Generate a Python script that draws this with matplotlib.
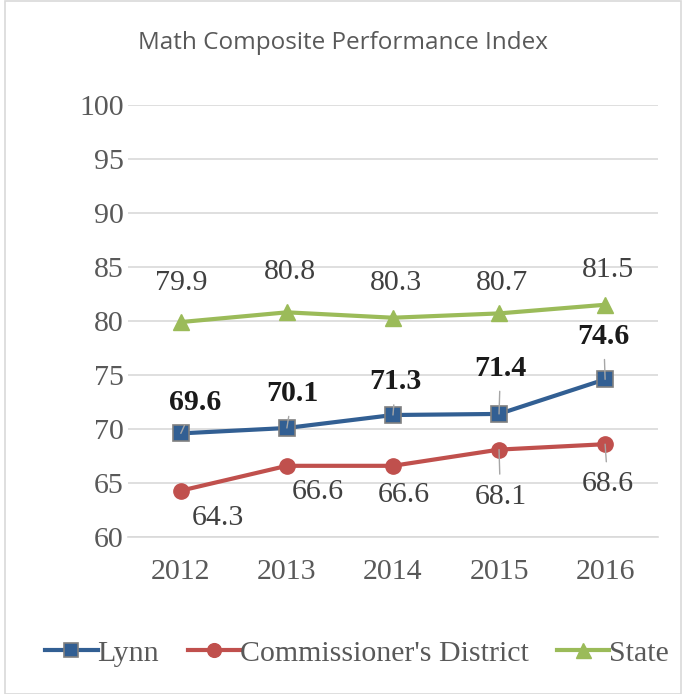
import matplotlib.pyplot as plt
from matplotlib.patches import Rectangle

years = ["2012", "2013", "2014", "2015", "2016"]
lynn = [69.6, 70.1, 71.3, 71.4, 74.6]
district = [64.3, 66.6, 66.6, 68.1, 68.6]
state = [79.9, 80.8, 80.3, 80.7, 81.5]

# label offsets in points (dx, dy) and whether a leader line is drawn
lynn_off = [(10, 22), (4, 25), (2, 24), (1, 33), (-1, 31)]
dist_off = [(27, -20), (22, -19), (8, -21), (1, -34), (2, -29)]
dist_lead = [False, False, False, True, True]
state_off = [(0, 28), (2, 29), (2, 25), (2, 22), (2, 25)]

serif = "Liberation Serif"
txt = "#404040"
fs = 21.5

fig = plt.figure(figsize=(6.87, 6.94), dpi=100)
fig.patches.append(Rectangle((0.008, 0.0), 0.983, 0.999, transform=fig.transFigure,
                             fill=False, edgecolor="#d9d9d9", linewidth=1.2))
ax = fig.add_axes([0.186, 0.226, 0.772, 0.623])

x = range(len(years))
ax.plot(x, lynn, color="#325f93", lw=3, marker="s", ms=11,
        markerfacecolor="#325f93", markeredgecolor="#808080", markeredgewidth=1.2,
        label="Lynn", zorder=3)
ax.plot(x, district, color="#c0504d", lw=3, marker="o", ms=11,
        label="Commissioner's District", zorder=3)
ax.plot(x, state, color="#9bbb59", lw=3, marker="^", ms=12,
        label="State", zorder=3)

lead = dict(arrowstyle="-", color="#a6a6a6", lw=1, shrinkA=5, shrinkB=0)
for i, v in enumerate(lynn):
    ax.annotate(f"{v:.1f}", (i, v), xytext=lynn_off[i], textcoords="offset points",
                ha="center", va="center", fontsize=fs, fontweight="bold",
                family=serif, color="#1a1a1a", arrowprops=lead, zorder=4)
for i, v in enumerate(district):
    ax.annotate(f"{v:.1f}", (i, v), xytext=dist_off[i], textcoords="offset points",
                ha="center", va="center", fontsize=fs, family=serif, color=txt,
                arrowprops=lead if dist_lead[i] else None, zorder=4)
for i, v in enumerate(state):
    ax.annotate(f"{v:.1f}", (i, v), xytext=state_off[i], textcoords="offset points",
                ha="center", va="center", fontsize=fs, family=serif, color=txt, zorder=4)

ax.set_xlim(-0.5, len(years) - 0.5)
ax.set_ylim(60, 100)
ax.set_yticks(range(60, 101, 5))
ax.set_xticks(list(x))
ax.set_xticklabels(years)
ax.yaxis.grid(True, color="#d9d9d9", lw=1.2)
ax.set_axisbelow(True)
for s in ["top", "right", "left"]:
    ax.spines[s].set_visible(False)
ax.spines["bottom"].set_color("#d9d9d9")
ax.spines["bottom"].set_linewidth(1.2)
ax.tick_params(length=0, labelsize=fs, labelcolor="#595959")
ax.tick_params(axis="x", pad=16)
ax.tick_params(axis="y", pad=3)
for lab in ax.get_xticklabels() + ax.get_yticklabels():
    lab.set_family(serif)

fig.text(0.5, 0.938, "Math Composite Performance Index", ha="center", va="center",
         fontsize=17.5, color="#595959", family="Open Sans")

fig.legend(loc="center", bbox_to_anchor=(0.52, 0.059), ncol=3, frameon=False,
           prop={"family": serif, "size": fs}, labelcolor="#595959", markerscale=0.9,
           handlelength=1.75, handletextpad=0.0, columnspacing=0.95, borderpad=0)

fig.savefig("out.png", dpi=100)
